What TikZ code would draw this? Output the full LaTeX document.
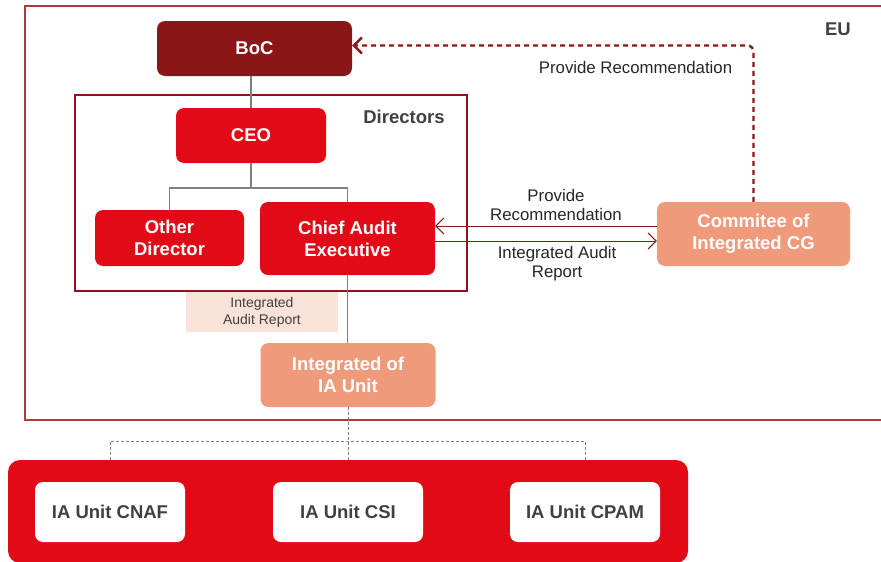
\documentclass[tikz,border=0pt]{standalone}
\usepackage{fontspec}
\setmainfont{Liberation Sans}
\usetikzlibrary{arrows.meta}
\definecolor{bocred}{RGB}{139,22,24}
\definecolor{ojkred}{RGB}{227,10,23}
\definecolor{salmon}{RGB}{240,154,124}
\definecolor{peach}{RGB}{251,226,216}
\definecolor{framered}{RGB}{168,60,60}
\definecolor{textgray}{RGB}{64,64,64}
\definecolor{linegray}{RGB}{128,128,128}

\begin{document}
\begin{tikzpicture}[x=1pt, y=-1pt, >={Straight Barb[length=8pt,width=16pt]},
  every node/.style={font=\fontsize{18.5}{22}\selectfont\bfseries, align=center, inner sep=0pt},
  orgbox/.style={fill=ojkred, rounded corners=8pt, text=white},
  bocbox/.style={orgbox, fill=bocred},
  cgbox/.style={orgbox, fill=salmon},
  unitbox/.style={fill=white, rounded corners=8pt, text=textgray, minimum width=150pt, minimum height=60pt},
  tree/.style={draw=linegray, line width=1.2pt},
  flow/.style={draw=bocred, line width=1pt},
  feedback/.style={draw=bocred, line width=2.4pt, dash pattern=on 5pt off 4pt, rounded corners=6pt},
  split/.style={draw=linegray, line width=1pt, dash pattern=on 3pt off 2pt},
  note/.style={font=\fontsize{16.8}{19}\selectfont, text=black!85}]
\useasboundingbox (0,0) rectangle (881,562);
\clip (0,0) rectangle (881,562);

\draw[framered, line width=1.2pt] (900,6) -- (25,6) -- (25,420) -- (900,420);
\node[text=textgray] (eu) at (838,29) {EU};
\node[draw=bocred, line width=2pt, minimum width=392pt, minimum height=196pt] (dirs) at (271,193) {};
\node[text=textgray] (dirlabel) at (404,117) {Directors};

\node[bocbox, minimum width=195pt, minimum height=55pt] (boc) at (254.5,48.5) {BoC};
\node[orgbox, minimum width=150pt, minimum height=55pt] (ceo) at (251,135.5) {CEO};
\node[orgbox, minimum width=149pt, minimum height=56pt] (other) at (169.5,238) {Other\\Director};
\node[orgbox, minimum width=175pt, minimum height=73pt] (cae) at (347.5,238.5) {Chief Audit\\Executive};
\node[cgbox, minimum width=193pt, minimum height=64pt] (cmt) at (753.5,234) {Commitee of\\Integrated CG};
\node[fill=peach, minimum width=152pt, minimum height=40pt, text=textgray,
  font=\fontsize{14}{17}\selectfont] (iar) at (262,312) {Integrated\\Audit Report};
\node[cgbox, minimum width=175pt, minimum height=64pt] (iau) at (348,375) {Integrated of\\IA Unit};

\fill[ojkred, rounded corners=12pt] (8,460) rectangle (688,563);
\node (band) at (348,460) {};
\node[unitbox] (cnaf) at (110,512) {IA Unit CNAF};
\node[unitbox] (csi) at (348,512) {IA Unit CSI};
\node[unitbox] (cpam) at (585,512) {IA Unit CPAM};

\coordinate (split) at (251,188);
\coordinate (fork) at (348,441);
\draw[tree] (ceo |- boc.south) -- (ceo);
\draw[tree] (ceo) -- (split);
\draw[tree] (other.north) |- (split) -| (cae.north);
\draw[tree] (cae.south) -- (cae.south |- iau.north);

\draw[flow,->] ([yshift=12.5pt]cae.east -| cmt.west) -- ([yshift=12.5pt]cae.east)
  node[note, pos=0.455, above=5pt] {Provide\\Recommendation};
\draw[flow,->] ([yshift=-2.5pt]cae.east) -- ([yshift=-2.5pt]cae.east -| cmt.west)
  node[note, pos=0.55, below=5pt] {Integrated Audit\\Report};
\draw[feedback,->] (cmt.north) |- ([yshift=3pt]boc.east)
  node[note, pos=0.647, below=15pt] {Provide Recommendation};

\draw[split] (iau.south) -- (band.center);
\draw[split] (cnaf |- band) |- (fork) -| (cpam |- band);
\end{tikzpicture}
\end{document}
